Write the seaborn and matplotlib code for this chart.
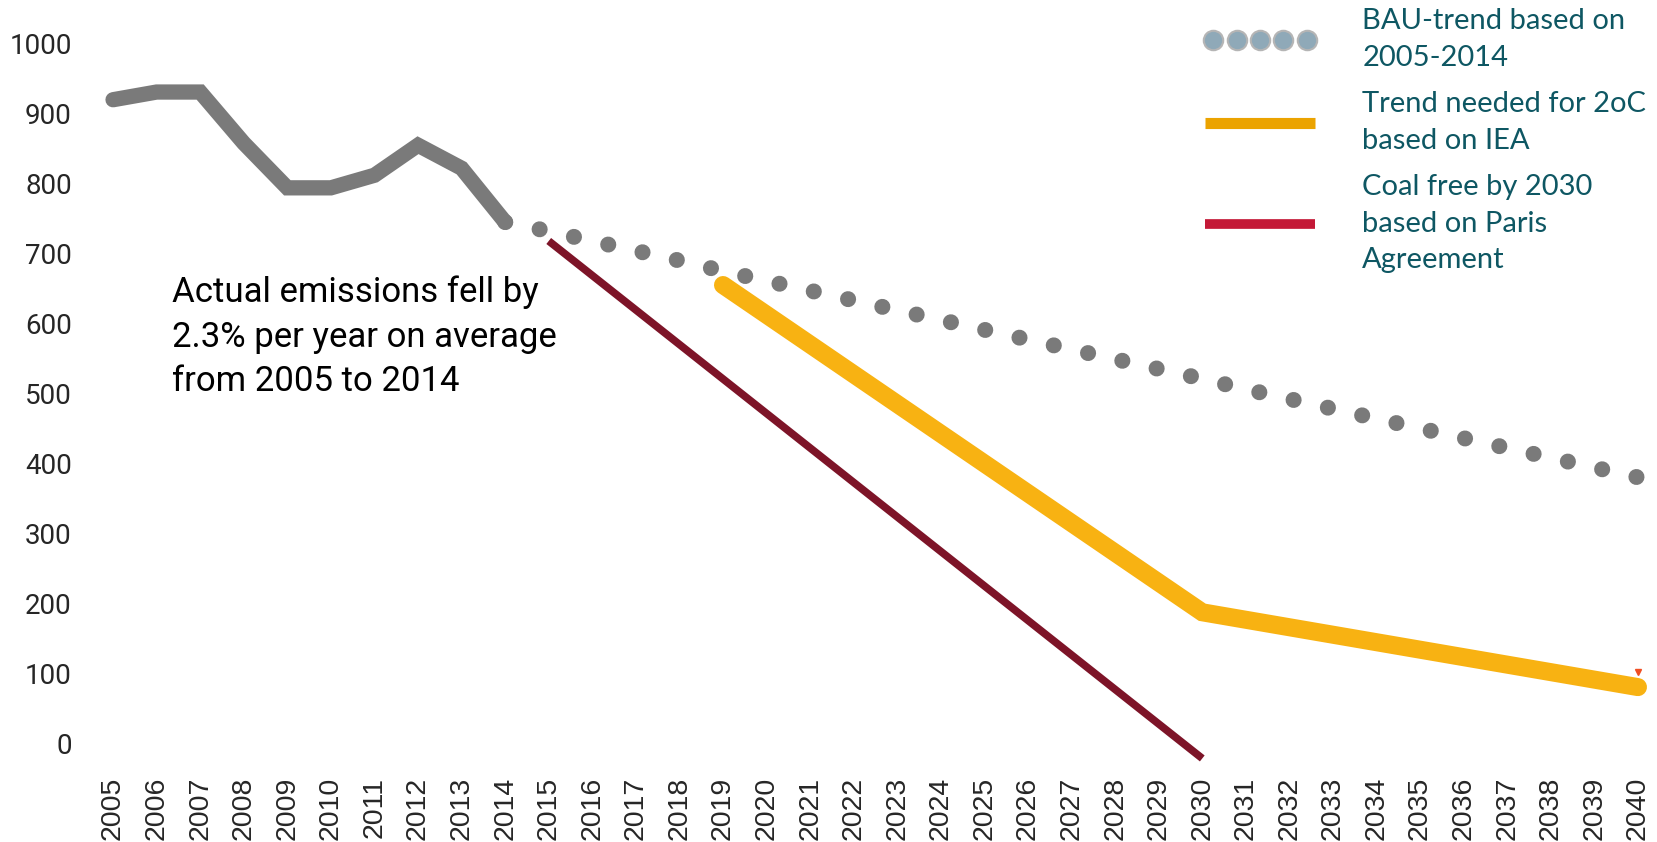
import matplotlib
matplotlib.use("Agg")
import matplotlib.pyplot as plt
from matplotlib.lines import Line2D
from matplotlib.legend_handler import HandlerLine2D
import seaborn as sns
import pandas as pd

sns.set_theme(style="white")
plt.rcParams['font.family'] = ['Roboto', 'DejaVu Sans']

# --- data ---
all_years = list(range(2005, 2041))
y_ticks = [0, 100, 200, 300, 400, 500, 600, 700, 800, 900, 1000]

actual_years = [2005, 2006, 2007, 2008, 2009, 2010, 2011, 2012, 2013, 2014]
actual_vals = [920, 931, 931, 858, 794, 794, 812, 855, 822, 745]

bau_years = list(range(2014, 2041))
bau_vals = [745, 732, 718, 704, 690, 675, 661, 647, 633, 619, 605, 591, 577,
            563, 549, 535, 521, 506, 492, 478, 464, 450, 436, 422, 408, 394, 380]

iea_years = [2019, 2030, 2040]
iea_vals = [655, 187, 80]

paris_years = [2015, 2030]
paris_vals = [718, -22]

stray_year = [2040]
stray_val = [101]

annotation = "Actual emissions fell by\n2.3% per year on average\nfrom 2005 to 2014"
legend_labels = ["BAU-trend based on\n2005-2014",
                 "Trend needed for 2oC\nbased on IEA",
                 "Coal free by 2030\nbased on Paris\nAgreement"]

df_actual = pd.DataFrame({'year': actual_years, 'value': actual_vals})
df_bau = pd.DataFrame({'year': bau_years, 'value': bau_vals})
df_iea = pd.DataFrame({'year': iea_years, 'value': iea_vals})
df_paris = pd.DataFrame({'year': paris_years, 'value': paris_vals})

fig = plt.figure(figsize=(16.57, 8.42), dpi=100)
ax = fig.add_axes([0.0577, 0.0843, 0.9387, 0.872])

# BAU dotted trend (drawn first so the actual line sits on top)
sns.lineplot(data=df_bau, x='year', y='value', ax=ax, color='#7A7A7A',
             linewidth=11.5, linestyle=(0, (0.01, 2.19)),
             dash_capstyle='round', estimator=None, sort=False)
sns.lineplot(data=df_actual, x='year', y='value', ax=ax, color='#7A7A7A',
             linewidth=11, solid_capstyle='round', solid_joinstyle='miter',
             estimator=None, sort=False)
sns.lineplot(data=df_paris, x='year', y='value', ax=ax, color='#7D1428',
             linewidth=5.5, solid_capstyle='butt', estimator=None, sort=False)
sns.lineplot(data=df_iea, x='year', y='value', ax=ax, color='#F8B212',
             linewidth=13, solid_capstyle='round', solid_joinstyle='miter',
             estimator=None, sort=False)
ax.plot(stray_year, stray_val, linestyle='none', marker='v', markersize=4,
        color='#F04E23')

ax.set_xlim(2004.6, 2040.3)
ax.set_ylim(-40, 1010)
ax.set_xticks(all_years)
ax.set_xticklabels([str(y) for y in all_years], rotation=90,
                   fontsize=20.5, family='Liberation Sans')
ax.set_yticks(y_ticks)
ax.set_yticklabels([str(v) for v in y_ticks], fontsize=20)
ax.tick_params(axis='x', length=0, pad=4)
ax.tick_params(axis='y', length=0, pad=17)
ax.set_xlabel('')
ax.set_ylabel('')
for s in ax.spines.values():
    s.set_visible(False)
ax.grid(False)

ax.text(2006.35, 581, annotation, ha='left', va='center', fontsize=25,
        linespacing=1.44, color='black')

# legend swatches use their own colours, as in the original
bau_handle = Line2D([], [], linestyle='none', marker='o', markersize=14,
                    markerfacecolor='#8FA9B8', markeredgecolor='#B5B5B5',
                    markeredgewidth=1.5)
iea_handle = Line2D([], [], color='#EBA300', linewidth=8, solid_capstyle='butt')
paris_handle = Line2D([], [], color='#C41937', linewidth=7, solid_capstyle='butt')

leg = ax.legend([bau_handle, iea_handle, paris_handle], legend_labels,
                loc='upper left', bbox_to_anchor=(0.727, 0.99),
                bbox_transform=fig.transFigure, frameon=False, numpoints=5,
                handlelength=3.8, handletextpad=1.6, labelspacing=0.7,
                borderpad=0, borderaxespad=0,
                prop={'family': 'Lato', 'size': 21}, labelcolor='#0E5763',
                handler_map={iea_handle: HandlerLine2D(marker_pad=0),
                             paris_handle: HandlerLine2D(marker_pad=0)})
for t in leg.get_texts():
    t.set_linespacing(1.5)

fig.savefig('out.png', dpi=100)
